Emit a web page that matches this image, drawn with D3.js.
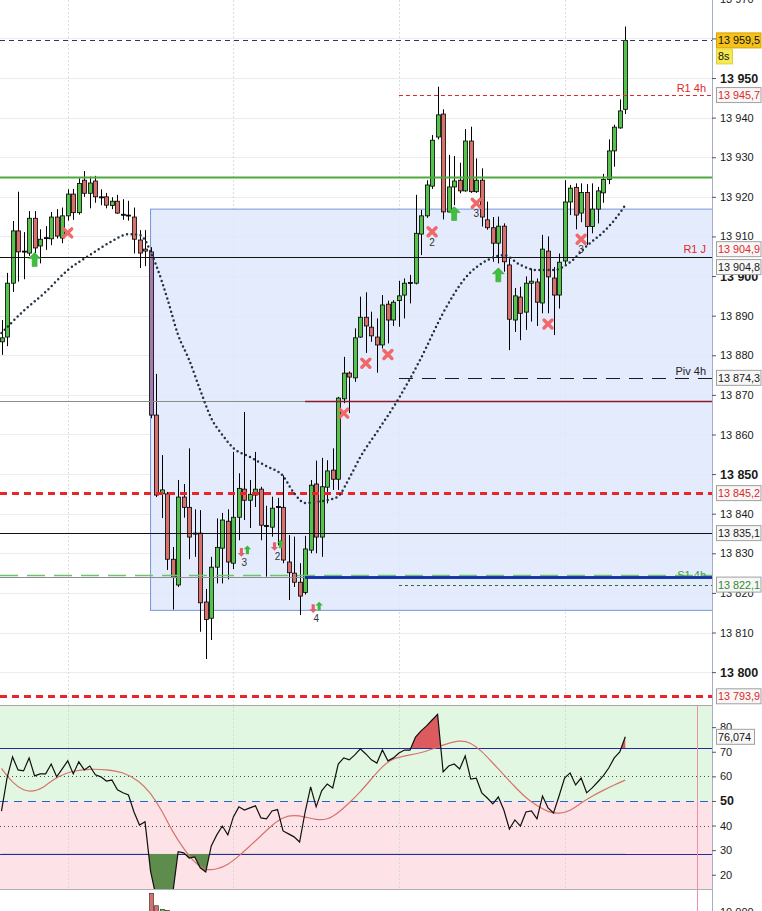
<!DOCTYPE html>
<html><head><meta charset="utf-8">
<script src="https://cdn.jsdelivr.net/npm/d3@7/dist/d3.min.js"></script>
<style>
html,body{margin:0;padding:0;background:#fff;overflow:hidden}
svg{display:block;font-family:"Liberation Sans",Arial,sans-serif}
</style></head><body>
<svg id="chart" width="762" height="911"></svg>
<script>
// ---------------- DATA ----------------
const open = [13883.4,13884.6,13898.2,13911.4,13906.3,13905.8,13914.6,13907.6,13909.5,13909.4,
13914.9,13909.6,13915.2,13920.7,13916.0,13924.2,13920.9,13924.0,13919.9,13920.0,
13917.8,13918.9,13915.6,13915.4,13914.9,13909.1,13906.8,13906.1,13864.9,13845.0,
13845.0,13828.5,13822.0,13844.2,13841.6,13835.1,13835.1,13817.7,13813.6,13826.5,
13831.3,13838.1,13827.5,13839.1,13846.2,13843.4,13844.7,13846.2,13837.0,13836.6,
13841.8,13841.6,13827.8,13825.0,13822.7,13820.1,13830.8,13847.5,13834.1,13846.7,
13851.0,13848.7,13869.0,13875.5,13874.3,13884.6,13889.6,13887.1,13884.6,13882.6,
13892.9,13888.9,13893.8,13895.2,13898.2,13898.2,13910.6,13915.2,13922.7,13935.1,
13940.9,13916.2,13922.5,13924.2,13921.5,13934.1,13921.3,13924.2,13914.2,13912.2,
13908.3,13912.6,13902.8,13888.9,13894.7,13890.9,13898.2,13898.5,13893.2,13906.3,
13899.5,13895.2,13903.8,13918.7,13922.4,13915.9,13921.1,13912.5,13916.9,13921.0,
13924.4,13931.6,13937.4,13942.1];
const high = [13888.9,13900.8,13913.9,13921.3,13911.1,13916.4,13916.4,13911.8,13912.6,13916.2,
13916.9,13917.3,13921.9,13922.0,13924.7,13926.5,13925.1,13925.3,13921.9,13921.0,
13919.9,13920.5,13919.4,13919.0,13917.3,13911.6,13911.6,13907.3,13875.3,13854.8,
13845.5,13831.6,13848.5,13847.5,13856.5,13841.1,13840.9,13821.0,13829.1,13838.8,
13840.2,13841.1,13855.6,13850.2,13865.7,13848.5,13855.6,13846.8,13842.0,13844.3,
13844.0,13849.7,13834.6,13834.2,13827.5,13834.4,13848.5,13853.4,13854.1,13853.5,
13856.5,13869.5,13879.6,13875.9,13886.8,13894.8,13895.9,13891.0,13889.3,13895.2,
13893.8,13893.9,13898.8,13899.4,13900.3,13920.5,13916.7,13924.2,13935.6,13947.8,
13942.1,13930.6,13930.3,13928.6,13937.1,13937.7,13929.7,13927.2,13918.8,13914.9,
13915.0,13913.3,13904.4,13897.0,13897.3,13899.9,13901.9,13899.4,13910.4,13910.0,
13902.3,13905.7,13924.2,13923.0,13923.4,13923.4,13923.2,13923.4,13922.5,13925.8,
13934.5,13938.2,13944.6,13963.0];
const low = [13880.1,13882.3,13896.0,13898.6,13899.2,13905.1,13905.8,13903.2,13906.6,13907.8,
13909.5,13908.3,13914.0,13914.2,13915.5,13920.0,13917.1,13918.5,13917.9,13917.1,
13916.9,13915.7,13914.2,13914.0,13905.7,13902.0,13902.5,13864.1,13844.2,13838.9,
13825.8,13815.8,13821.5,13839.0,13828.5,13829.1,13810.2,13803.3,13808.1,13822.4,
13822.4,13823.4,13826.0,13833.3,13838.4,13836.4,13841.7,13833.3,13824.1,13834.2,
13832.0,13827.5,13818.2,13821.5,13814.4,13819.6,13830.0,13830.0,13829.1,13842.6,
13846.0,13846.0,13867.9,13865.4,13873.3,13884.4,13880.6,13883.4,13875.6,13881.7,
13883.0,13887.4,13887.2,13889.3,13893.1,13897.9,13905.3,13914.7,13922.0,13934.5,
13914.3,13916.0,13917.9,13920.9,13921.3,13921.0,13921.0,13912.5,13911.7,13903.6,
13903.2,13901.1,13881.3,13885.9,13883.8,13886.4,13888.5,13887.4,13890.6,13890.6,
13885.1,13891.8,13903.0,13915.4,13911.8,13913.6,13907.8,13910.8,13913.3,13918.5,
13923.2,13927.6,13937.2,13940.9];
const close = [13884.4,13898.2,13911.4,13906.1,13906.1,13914.6,13907.1,13909.3,13909.7,13914.9,
13910.1,13915.2,13920.7,13916.0,13923.4,13920.9,13923.5,13920.0,13920.0,13917.9,
13918.9,13915.9,13915.4,13915.2,13909.3,13905.8,13906.3,13864.9,13844.7,13846.0,
13828.5,13824.0,13844.2,13841.6,13834.1,13835.0,13817.5,13813.3,13826.5,13831.5,
13838.4,13827.8,13839.1,13846.4,13843.4,13844.9,13846.2,13837.1,13836.8,13841.4,
13841.6,13828.3,13825.1,13822.7,13819.2,13831.1,13847.2,13834.1,13846.8,13850.8,
13848.7,13869.2,13875.5,13874.5,13884.4,13889.6,13887.4,13884.9,13882.6,13892.7,
13888.9,13893.4,13895.0,13898.2,13898.4,13910.8,13915.2,13923.0,13934.3,13940.7,
13916.2,13922.5,13924.0,13921.5,13934.1,13921.3,13924.2,13914.9,13912.2,13908.3,
13912.6,13903.6,13889.1,13895.0,13890.6,13898.2,13898.7,13893.4,13906.8,13899.8,
13895.2,13903.5,13918.7,13922.2,13915.4,13921.1,13912.5,13916.9,13921.5,13924.4,
13931.6,13937.6,13941.7,13959.5];
const highlightIdx = 27;

// dotted moving average
const maIdx = [0,4,8,12,16,20,23,25,26,27,28,30,32,34,36,38,40,42,45,48,51,53,55,57,59,61,63,65,68,72,76,80,84,88,91,94,97,100,103,106,109,111,113];
const maVal = [13885.6,13891.2,13896.0,13901.5,13905.3,13908.8,13910.6,13910.4,13909.1,13906.1,13902.8,13894.5,13885.1,13878.8,13871.2,13864.1,13859.9,13856.6,13854.3,13852.0,13849.5,13845.2,13842.7,13843.0,13843.4,13844.4,13849.0,13854.3,13860.6,13869.2,13879.3,13890.7,13899.5,13904.0,13905.3,13902.8,13901.5,13901.5,13903.5,13907.6,13911.1,13914.1,13917.9];

// horizontal levels
const levelVal   = [13959.5,13945.7,13924.9,13904.8,13874.3,13868.5,13868.5,13845.2,13835.1,13824.5,13823.9,13823.9,13822.1,13793.9];
const levelStart = [0,72,0,0,72,0,55,0,0,0,0,55,72,0];
const levelEnd   = [null,null,null,null,null,null,null,null,null,null,55,null,null,null];
const levelName  = ["","R1 4h","","","Piv 4h","","","","","S1 4h","","","",""];

// right-hand price tags
const tagVal = [13945.7,13904.9,13904.8,13874.3,13845.2,13835.1,13822.1,13793.9];
const lastPrice = 13959.5, lastTimer = "8s";
const r1jVal = 13904.9, r1jName = "R1 J";

// blue zone
const zoneStartIdx = 27, zoneTop = 13916.9, zoneBottom = 13815.6;

// signals
const bigUpIdx = [6,82,90];
const bigUpVal = [13904.2,13915.8,13900.3];
const crossIdx = [12,62,66,70,78,86,99,105];
const crossVal = [13910.9,13865.4,13878.0,13880.2,13911.2,13918.4,13887.9,13909.3];
const crossLabel = ["","","","","2","3","","3"];
const pairIdx = [44,50,57];
const pairVal = [13830.6,13832.1,13816.4];
const pairLabel = ["3","2","4"];

// RSI
const rsi = [45.9,59.3,67.9,62.6,62.2,67.5,60.2,61.0,61.0,65.0,
59.8,63.0,66.3,61.0,65.9,62.6,64.2,60.6,59.8,58.1,
58.5,54.5,53.3,52.4,45.5,40.2,41.5,21.5,11,12,
10,12,29.4,28.9,26.8,27.2,22.8,21.1,31.7,36.2,
39.8,36.2,43.5,47.6,46.3,47.2,48.0,43.1,42.7,45.9,
46.5,37.8,36.6,35.4,33.3,45.5,55.7,47.6,54.1,56.9,
55.3,65.0,67.5,66.7,68.7,71.2,69.1,66.7,65.4,70.7,
66.3,67.5,69.5,70.7,70.7,76.0,78.5,80.5,82.9,85.2,
61.8,64.2,65.0,63.0,68.3,58.9,59.3,53.3,51.2,48.8,
51.6,46.3,38.6,42.3,39.8,45.5,45.9,42.7,52.0,47.2,
45.1,52.0,59.3,61.4,56.5,59.3,53.3,55.3,57.7,60.2,
63.4,67.5,69.9,76.074];
const sigIdx = [0,2,4,6,8,10,13,16,19,22,25,27,29,31,33,35,37,39,41,43,45,47,49,51,53,55,57,59,61,63,65,67,69,71,74,77,80,83,85,87,89,91,93,95,97,99,101,103,105,107,109,111,113];
const sigVal = [63.2,57.3,54.1,53.7,56.1,59.8,62.4,63.0,62.8,61.8,58.1,53.3,46.3,37.4,30.5,24.8,21.7,22.2,24.0,27.6,31.7,35.8,40.2,43.5,44.3,43.5,42.3,42.3,45.1,49.2,53.7,58.9,64.2,67.5,68.7,70.1,72.8,74.8,73.8,70.3,65.4,60.6,55.7,51.2,48.0,45.5,44.7,45.9,49.2,52.0,54.3,56.5,58.5];
const rsiUpper = 71.5, rsiLower = 28.5, rsiMid = 50, rsiDots = [60,40];
const rsiTicks = [20,30,40,50,60,70,80];

// volume (only the bars tall enough to show)
const volIdx = [27,28,29,30];
const volVal = [12400,10800,10350,10200];

const priceTicks = d3.range(13800,13971,10);
const gridIdx = [12,42,72,102];
const cursorIdx = 126;

// ---------------- LAYOUT ----------------
const AX = 712, P_BOT = 705, R_TOP = 706, R_BOT = 889, V_BOT = 911;
const FONT = '"Liberation Sans",Arial,sans-serif';
const svg = d3.select("#chart");
const x = d3.scaleLinear().domain([0,113]).range([1.5,625.3]);
const y = d3.scaleLinear().domain([13791.7,13969.7]).range([P_BOT,0]);
const ry = d3.scaleLinear().domain([14.2,88.6]).range([R_BOT,R_TOP]);
const vy = d3.scaleLinear().domain([0,10000]).range([990,912]);
const loc = d3.formatLocale({decimal:",",thousands:" ",grouping:[3],currency:["",""]});
const fInt = loc.format(","), f1 = loc.format(",.1f"), f3 = loc.format(".3f");

const defs = svg.append("defs");
const clip = (id,x0,y0,w,h)=>defs.append("clipPath").attr("id",id).append("rect").attr("x",x0).attr("y",y0).attr("width",w).attr("height",h);
clip("cp",0,0,AX,P_BOT);
clip("cr",0,R_TOP,AX,R_BOT-R_TOP);
clip("cv",0,R_BOT,AX,V_BOT-R_BOT);
clip("cup",0,R_TOP,AX,ry(rsiUpper)-R_TOP);
clip("clo",0,ry(rsiLower),AX,R_BOT-ry(rsiLower));

// ---------- price panel ----------
const P = svg.append("g").attr("clip-path","url(#cp)");
P.selectAll("line.hg").data(priceTicks).join("line")
  .attr("x1",0).attr("x2",AX).attr("y1",d=>Math.round(y(d))+0.5).attr("y2",d=>Math.round(y(d))+0.5)
  .attr("stroke","#ececec");
P.selectAll("line.vg").data(gridIdx).join("line")
  .attr("x1",d=>Math.round(x(d))+0.5).attr("x2",d=>Math.round(x(d))+0.5).attr("y1",0).attr("y2",P_BOT)
  .attr("stroke","#dcdcdc").attr("stroke-dasharray","2,2");
P.append("rect").attr("x",x(zoneStartIdx)).attr("y",y(zoneTop)).attr("width",AX-x(zoneStartIdx)+2)
  .attr("height",y(zoneBottom)-y(zoneTop)).attr("fill","#dfe7fb").attr("fill-opacity",0.85)
  .attr("stroke","#7596d8").attr("stroke-width",1);

// candles
const idx = d3.range(open.length);
const up = i => close[i] >= open[i];
P.selectAll("line.wick").data(idx).join("line")
  .attr("x1",i=>Math.round(x(i))+0.5).attr("x2",i=>Math.round(x(i))+0.5)
  .attr("y1",i=>y(high[i])).attr("y2",i=>y(low[i])).attr("stroke","#000").attr("stroke-width",1);
P.selectAll("rect.body").data(idx).join("rect")
  .attr("x",i=>Math.round(x(i))-1.5).attr("width",4)
  .attr("y",i=>y(Math.max(open[i],close[i])))
  .attr("height",i=>Math.max(1,Math.abs(y(open[i])-y(close[i]))))
  .attr("fill",i=>{
    if (Math.abs(y(open[i])-y(close[i]))<1.3) return "#111";
    if (i===highlightIdx) return "#a27cae";
    return up(i) ? "#55c24c" : "#d8716b";})
  .attr("stroke","#000").attr("stroke-width",0.8);

// levels
const lvlStyle = [
  {c:"#2b3a58",w:1,d:"5,4"},{c:"#e02828",w:1,d:"4,3"},{c:"#4daa3c",w:2.2},{c:"#111",w:1},
  {c:"#1a1a1a",w:1.2,d:"14,9"},{c:"#8c8c8c",w:1},{c:"#8b1a2c",w:1.3},{c:"#e8262a",w:3,d:"7,5"},
  {c:"#111",w:1},{c:"#6cc46c",w:1.3,d:"18,9"},{c:"#8c8c8c",w:1},{c:"#1232a8",w:2.6},
  {c:"#2e6b2e",w:1,d:"3,3"},{c:"#e8262a",w:3,d:"7,5"}];
levelVal.forEach((v,k)=>{
  const s = lvlStyle[k];
  const x0 = levelStart[k]===0 ? 0 : x(levelStart[k]);
  const x1 = levelEnd[k]===null ? AX : x(levelEnd[k]);
  P.append("line").attr("x1",x0).attr("x2",x1).attr("y1",Math.round(y(v))+0.5).attr("y2",Math.round(y(v))+0.5)
   .attr("stroke",s.c).attr("stroke-width",s.w).attr("stroke-dasharray",s.d||null);
});

// moving average (dotted)
P.append("path").datum(maIdx.map((d,k)=>[d,maVal[k]]))
  .attr("d",d3.line().x(d=>x(d[0])).y(d=>y(d[1])).curve(d3.curveMonotoneX))
  .attr("fill","none").attr("stroke","#243240").attr("stroke-width",2.5)
  .attr("stroke-linecap","round").attr("stroke-dasharray","0,4.6");

// level names
const lvlTextColor = {"R1 4h":"#e02828","Piv 4h":"#222","S1 4h":"#3a9a3a"};
levelVal.forEach((v,k)=>{
  if(!levelName[k]) return;
  const yy = levelName[k]==="S1 4h" ? y(v)+4 : y(v)-3;
  P.append("text").attr("x",706).attr("y",yy).attr("text-anchor","end")
   .attr("font-size",11).attr("fill",lvlTextColor[levelName[k]]).text(levelName[k]);
});
P.append("text").attr("x",706).attr("y",y(r1jVal)-4).attr("text-anchor","end")
 .attr("font-size",11).attr("fill","#e02828").text(r1jName);
// redraw blue line over S1 4h text
P.append("line").attr("x1",x(levelStart[11])).attr("x2",AX).attr("y1",Math.round(y(levelVal[11]))+0.5)
 .attr("y2",Math.round(y(levelVal[11]))+0.5).attr("stroke","#1232a8").attr("stroke-width",2.6);

// signals: big green up arrows
const arrowUp = "M0,-7L6,-1L2.5,-1L2.5,7L-2.5,7L-2.5,-1L-6,-1Z";
P.selectAll("path.bu").data(bigUpIdx).join("path")
  .attr("d",arrowUp).attr("transform",(d,k)=>`translate(${x(d)},${y(bigUpVal[k])})`)
  .attr("fill","#3fbf3f").attr("stroke","#2f9a2f").attr("stroke-width",0.5);
// red crosses
crossIdx.forEach((d,k)=>{
  const cx=x(d), cy=y(crossVal[k]);
  const g=P.append("g").attr("transform",`translate(${cx},${cy})`);
  g.append("path").attr("d","M-4,-4L4,4M4,-4L-4,4").attr("stroke","#f06868").attr("stroke-width",3.4).attr("stroke-linecap","round");
  if(crossLabel[k]) P.append("text").attr("x",cx).attr("y",cy+14).attr("text-anchor","middle")
    .attr("font-size",10).attr("fill","#333").text(crossLabel[k]);
});
// small arrow pairs
pairIdx.forEach((d,k)=>{
  const cx=x(d), cy=y(pairVal[k]);
  P.append("path").attr("d",arrowUp).attr("transform",`translate(${cx-3},${cy+1.5}) scale(0.62,-0.62)`)
   .attr("fill","#e3606a");
  P.append("path").attr("d",arrowUp).attr("transform",`translate(${cx+3},${cy-1}) scale(0.62)`)
   .attr("fill","#3cb83c");
  P.append("text").attr("x",cx).attr("y",cy+15).attr("text-anchor","middle")
   .attr("font-size",10).attr("fill","#333").text(pairLabel[k]);
});

// ---------- RSI panel ----------
const R = svg.append("g").attr("clip-path","url(#cr)");
R.append("rect").attr("x",0).attr("y",R_TOP).attr("width",AX).attr("height",ry(rsiMid)-R_TOP).attr("fill","#e2f7e1");
R.append("rect").attr("x",0).attr("y",ry(rsiMid)).attr("width",AX).attr("height",R_BOT-ry(rsiMid)).attr("fill","#fde3e7");
R.selectAll("line.vg").data(gridIdx).join("line")
  .attr("x1",d=>Math.round(x(d))+0.5).attr("x2",d=>Math.round(x(d))+0.5).attr("y1",R_TOP).attr("y2",R_BOT)
  .attr("stroke","#d4dcd4").attr("stroke-dasharray","2,2");
const hline=(v,c,w,d)=>R.append("line").attr("x1",0).attr("x2",AX).attr("y1",Math.round(ry(v))+0.5).attr("y2",Math.round(ry(v))+0.5)
  .attr("stroke",c).attr("stroke-width",w).attr("stroke-dasharray",d||null);
rsiDots.forEach(v=>hline(v,"#3d5a3d",1,"1,3"));
hline(rsiMid,"#2266cc",1.2,"8,6");
hline(rsiUpper,"#2828a0",1.2);
hline(rsiLower,"#2828a0",1.2);

R.append("path").datum(idx).attr("clip-path","url(#cup)")
  .attr("d",d3.area().x(i=>x(i)).y1(i=>ry(rsi[i])).y0(ry(rsiUpper))).attr("fill","#dc5b5e");
R.append("path").datum(idx).attr("clip-path","url(#clo)")
  .attr("d",d3.area().x(i=>x(i)).y1(i=>ry(rsi[i])).y0(ry(rsiLower))).attr("fill","#5e8c4c");
R.append("path").datum(sigIdx.map((d,k)=>[d,sigVal[k]]))
  .attr("d",d3.line().x(d=>x(d[0])).y(d=>ry(d[1])).curve(d3.curveBasis))
  .attr("fill","none").attr("stroke","#d6736c").attr("stroke-width",1.2);
R.append("path").datum(idx)
  .attr("d",d3.line().x(i=>x(i)).y(i=>ry(rsi[i])))
  .attr("fill","none").attr("stroke","#111").attr("stroke-width",1.2);

// ---------- volume ----------
const V = svg.append("g").attr("clip-path","url(#cv)");
V.selectAll("rect").data(volIdx).join("rect")
  .attr("x",d=>Math.round(x(d))-1.5).attr("width",4).attr("y",(d,k)=>vy(volVal[k])).attr("height",(d,k)=>vy(0)-vy(volVal[k]))
  .attr("fill",d=>up(d)?"#55c24c":"#d8716b").attr("stroke","#222").attr("stroke-width",0.6);

// pink cursor line
svg.append("line").attr("x1",Math.round(x(cursorIdx))+0.5).attr("x2",Math.round(x(cursorIdx))+0.5)
  .attr("y1",R_TOP).attr("y2",V_BOT).attr("stroke","#ec8fb0").attr("stroke-width",1);

// separators
svg.append("line").attr("x1",0).attr("x2",AX).attr("y1",R_TOP-0.5).attr("y2",R_TOP-0.5).attr("stroke","#a8a8a8");
svg.append("line").attr("x1",0).attr("x2",AX).attr("y1",R_BOT+0.5).attr("y2",R_BOT+0.5).attr("stroke","#b0b0b0");
svg.append("line").attr("x1",AX+0.5).attr("x2",AX+0.5).attr("y1",0).attr("y2",V_BOT).attr("stroke","#a4afc0");

// ---------- axes ----------
function styleAxis(g, boldTest){
  g.select(".domain").remove();
  g.attr("font-family",FONT);
  g.selectAll(".tick line").attr("stroke","#555");
  g.selectAll(".tick text").attr("fill","#1a1a1a")
   .attr("font-size",d=>boldTest(d)?12.5:11).attr("font-weight",d=>boldTest(d)?"bold":"normal");
}
svg.append("g").attr("transform",`translate(${AX},0)`)
  .call(d3.axisRight(y).tickValues(priceTicks).tickSize(4).tickPadding(4).tickFormat(fInt))
  .call(g=>styleAxis(g,d=>d%50===0));
svg.append("g").attr("transform",`translate(${AX},0)`)
  .call(d3.axisRight(ry).tickValues(rsiTicks).tickSize(4).tickPadding(4))
  .call(g=>styleAxis(g,d=>d===50));
svg.append("g").attr("transform",`translate(${AX},0)`)
  .call(d3.axisRight(vy).tickValues([10000]).tickSize(4).tickPadding(4).tickFormat(fInt))
  .call(g=>styleAxis(g,()=>false));

// ---------- tags ----------
const tagColor = ["#e02828","#e02828","#1a1a1a","#1a1a1a","#e02828","#1a1a1a","#2e8b2e","#e02828"];
const tagShift = [0,-7.5,10,0,0,0,0,0];
function tag(yc,txt,col,fill,stroke,w){
  const g = svg.append("g");
  g.append("rect").attr("x",716.5).attr("y",yc-7.5).attr("width",w||44.5).attr("height",15)
   .attr("fill",fill).attr("stroke",stroke).attr("stroke-width",1);
  g.append("text").attr("x",718).attr("y",yc+4).attr("font-size",10.8).attr("fill",col).text(txt);
}
tagVal.forEach((v,k)=>tag(y(v)+tagShift[k],f1(v),tagColor[k],"#f7f7f7","#a0a0a0"));
tag(y(lastPrice),f1(lastPrice),"#111","#f5c21b","#d6a400");
tag(y(lastPrice)+16,lastTimer,"#111","#f4e94f","#e0d040",16);
// RSI value tag
tag(ry(rsi[rsi.length-1]),f3(rsi[rsi.length-1]),"#111","#f7f7f7","#a0a0a0",38);
</script>
</body></html>
